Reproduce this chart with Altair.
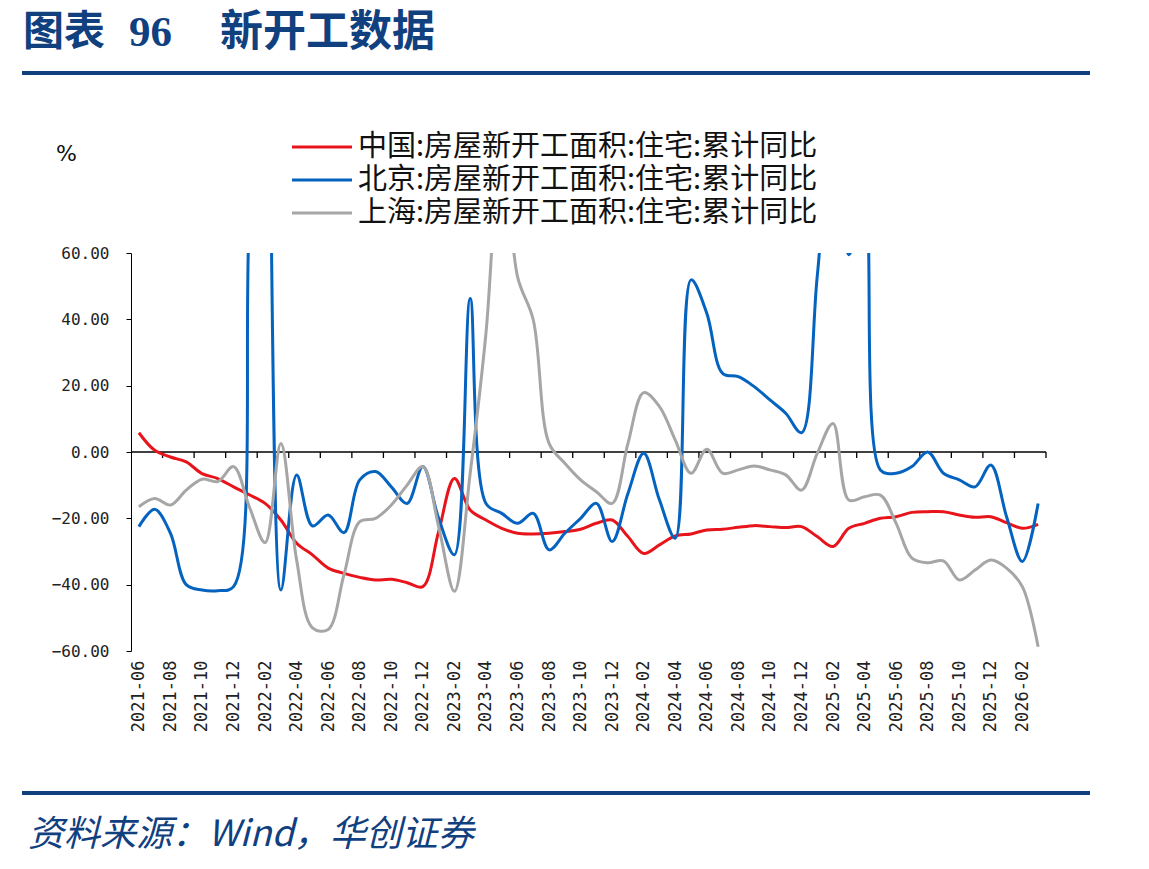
import json
import altair as alt
import pandas as pd

months = [
    "2021-06", "2021-07", "2021-08", "2021-09", "2021-10", "2021-11", "2021-12",
    "2022-01", "2022-02", "2022-03", "2022-04", "2022-05", "2022-06", "2022-07",
    "2022-08", "2022-09", "2022-10", "2022-11", "2022-12",
    "2023-01", "2023-02", "2023-03", "2023-04", "2023-05", "2023-06", "2023-07",
    "2023-08", "2023-09", "2023-10", "2023-11", "2023-12",
    "2024-01", "2024-02", "2024-03", "2024-04", "2024-05", "2024-06", "2024-07",
    "2024-08", "2024-09", "2024-10", "2024-11", "2024-12",
    "2025-01", "2025-02", "2025-03", "2025-04", "2025-05", "2025-06", "2025-07",
    "2025-08", "2025-09", "2025-10", "2025-11", "2025-12",
    "2026-01", "2026-02", "2026-03",
]

china = [
    5.8, 0.5, -1.5, -3.0, -6.5, -8.0, -10.5,
    -12.9, -15.5, -20.5, -27.5, -31.0, -35.0, -36.6,
    -37.8, -38.6, -38.4, -39.4, -40.6,
    -24.0, -8.0, -17.5, -20.5, -23.0, -24.5, -24.7,
    -24.5, -24.0, -23.3, -21.5, -20.5,
    -25.5, -30.6, -28.0, -25.3, -24.7, -23.5, -23.3,
    -22.7, -22.2, -22.5, -22.8, -22.5,
    -25.5, -28.5, -23.0, -21.5, -20.0, -19.5, -18.2,
    -18.0, -18.0, -19.0, -19.7, -19.5,
    -21.3, -23.0, -21.8,
]

beijing = [
    -22.5, -17.3, -24.5, -40.0, -41.6, -41.8, -40.6,
    70.0, 150.0, -41.6, -6.9, -22.3, -19.0, -24.3,
    -8.4, -5.9, -10.5, -15.5, -4.4,
    -20.0, -31.0, 46.3, -15.5, -18.5, -21.5, -18.5,
    -29.5, -24.5, -20.0, -15.5, -27.0,
    -12.5, -0.4, -14.5, -26.0, 51.9, 41.8, 23.7,
    22.7, 19.7, 15.7, 11.7, 5.8,
    53.0, 100.0, 59.5, 75.0, -5.4, -6.4, -4.4,
    0.0, -6.4, -8.4, -10.5, -3.9,
    -19.5, -33.0, -15.5,
]

shanghai = [
    -16.5, -14.0, -16.0, -11.5, -8.2, -8.9, -4.4,
    -16.5, -27.3, 2.6, -32.6, -53.0, -53.5, -37.0,
    -21.0, -20.0, -16.0, -10.0, -4.4,
    -22.5, -42.0, -6.4, 35.8, 95.0, 52.9, 39.8,
    2.6, -3.4, -8.4, -12.0, -15.5,
    2.6, 17.9, 13.7, 3.6, -6.4, 0.8, -6.4,
    -5.4, -4.2, -5.4, -6.9, -11.5,
    -0.4, 8.6, -14.5, -13.5, -13.0, -21.5, -32.0,
    -33.4, -32.8, -38.6, -35.6, -32.6,
    -35.0, -40.6, -58.7,
]

series_names = [
    "中国:房屋新开工面积:住宅:累计同比",
    "北京:房屋新开工面积:住宅:累计同比",
    "上海:房屋新开工面积:住宅:累计同比",
]
series_values = [china, beijing, shanghai]
colors = ["#E8141C", "#0563C0", "#A6A6A6"]
y_ticks = [-60, -40, -20, 0, 20, 40, 60]

title_parts = ["图表", "96", "新开工数据"]
source_text = "资料来源：Wind，华创证券"
unit_text = "%"

NAVY = "#11407F"
W, H = 915, 398
n = len(months)

xscale = alt.Scale(domain=[-0.5, n - 0.5], nice=False, zero=False)
yscale = alt.Scale(domain=[-60, 60], nice=False, zero=False)
label_expr = json.dumps(months, ensure_ascii=False) + "[datum.value]"

x_axis = alt.Axis(
    values=list(range(0, n, 2)), labelExpr=label_expr, labelAngle=270,
    domain=False, ticks=False, grid=False, title=None,
    labelFont="DejaVu Sans Mono", labelFontSize=17, labelColor="#222222",
    labelPadding=9, labelOverlap=False,
)
y_axis = alt.Axis(
    values=y_ticks, format=".2f", grid=False, title=None, tickSize=5,
    tickColor="black", domainColor="black", labelFont="DejaVu Sans Mono",
    labelFontSize=16, labelColor="#222222", labelPadding=17,
)

layers = []

# data lines (China, Beijing, Shanghai)
for name, vals, col in zip(series_names, series_values, colors):
    d = pd.DataFrame({"idx": list(range(n)), "month": months, "value": vals})
    layers.append(
        alt.Chart(d).mark_line(
            interpolate="catmull-rom", strokeWidth=3, clip=True, color=col
        ).encode(
            x=alt.X("idx:Q", scale=xscale, axis=x_axis),
            y=alt.Y("value:Q", scale=yscale, axis=y_axis),
        )
    )

# zero line acting as the x-axis line, with its ticks between months
zero_df = pd.DataFrame({"y": [0]})
layers.insert(0,
    alt.Chart(zero_df).mark_rule(color="black", strokeWidth=1.3).encode(
        x=alt.value(0), x2=alt.value(W), y=alt.Y("y:Q", scale=yscale, axis=y_axis)
    )
)
tick_df = pd.DataFrame({"pos": [i + 1.5 for i in range(0, n, 2)], "y": 0})
layers.insert(1,
    alt.Chart(tick_df).mark_rule(color="black", strokeWidth=1.3, y2Offset=6).encode(
        x=alt.X("pos:Q", scale=xscale, axis=x_axis),
        y=alt.Y("y:Q", scale=yscale, axis=y_axis),
        y2="y",
    )
)

one = alt.Data(values=[{}])

# legend
for k, (name, col) in enumerate(zip(series_names, colors)):
    yy = -106 + 33 * k
    layers.append(
        alt.Chart(one).mark_rule(color=col, strokeWidth=3).encode(
            x=alt.value(161), x2=alt.value(221), y=alt.value(yy)
        )
    )
    layers.append(
        alt.Chart(one).mark_text(
            text=name, align="left", baseline="middle", font="Noto Sans CJK SC",
            fontSize=29, color="#111111",
        ).encode(x=alt.value(227), y=alt.value(yy))
    )

# unit
layers.append(
    alt.Chart(one).mark_text(
        text=unit_text, align="left", baseline="middle", font="DejaVu Sans",
        fontSize=22, color="#111111",
    ).encode(x=alt.value(-75), y=alt.value(-99))
)

# title
layers.append(
    alt.Chart(one).mark_text(
        text=title_parts[0], align="left", baseline="middle", font="Noto Sans CJK SC",
        fontSize=41, fontWeight="bold", color=NAVY,
    ).encode(x=alt.value(-108), y=alt.value(-220))
)
layers.append(
    alt.Chart(one).mark_text(
        text=title_parts[1], align="left", baseline="middle", font="Liberation Serif",
        fontSize=43, fontWeight="bold", color=NAVY,
    ).encode(x=alt.value(-2), y=alt.value(-220))
)
layers.append(
    alt.Chart(one).mark_text(
        text=title_parts[2], align="left", baseline="middle", font="Noto Sans CJK SC",
        fontSize=43, fontWeight="bold", color=NAVY,
    ).encode(x=alt.value(89), y=alt.value(-220))
)

# separator rules
for yy in [-180, 540]:
    layers.append(
        alt.Chart(one).mark_rule(color=NAVY, strokeWidth=4).encode(
            x=alt.value(-109), x2=alt.value(959), y=alt.value(yy)
        )
    )

# source
layers.append(
    alt.Chart(one).mark_text(
        text=source_text, align="left", baseline="middle", font="Noto Sans CJK SC",
        fontSize=36, fontStyle="italic", color=NAVY,
    ).encode(x=alt.value(-103), y=alt.value(582))
)

chart = alt.layer(*layers).properties(
    width=W, height=H,
    autosize=alt.AutoSizeParams(type="none"),
    padding={"left": 131, "top": 253, "right": 103, "bottom": 218},
    background="white",
).configure_view(stroke=None)

chart.save("out.html", embed_options={"renderer": "svg", "actions": False})
